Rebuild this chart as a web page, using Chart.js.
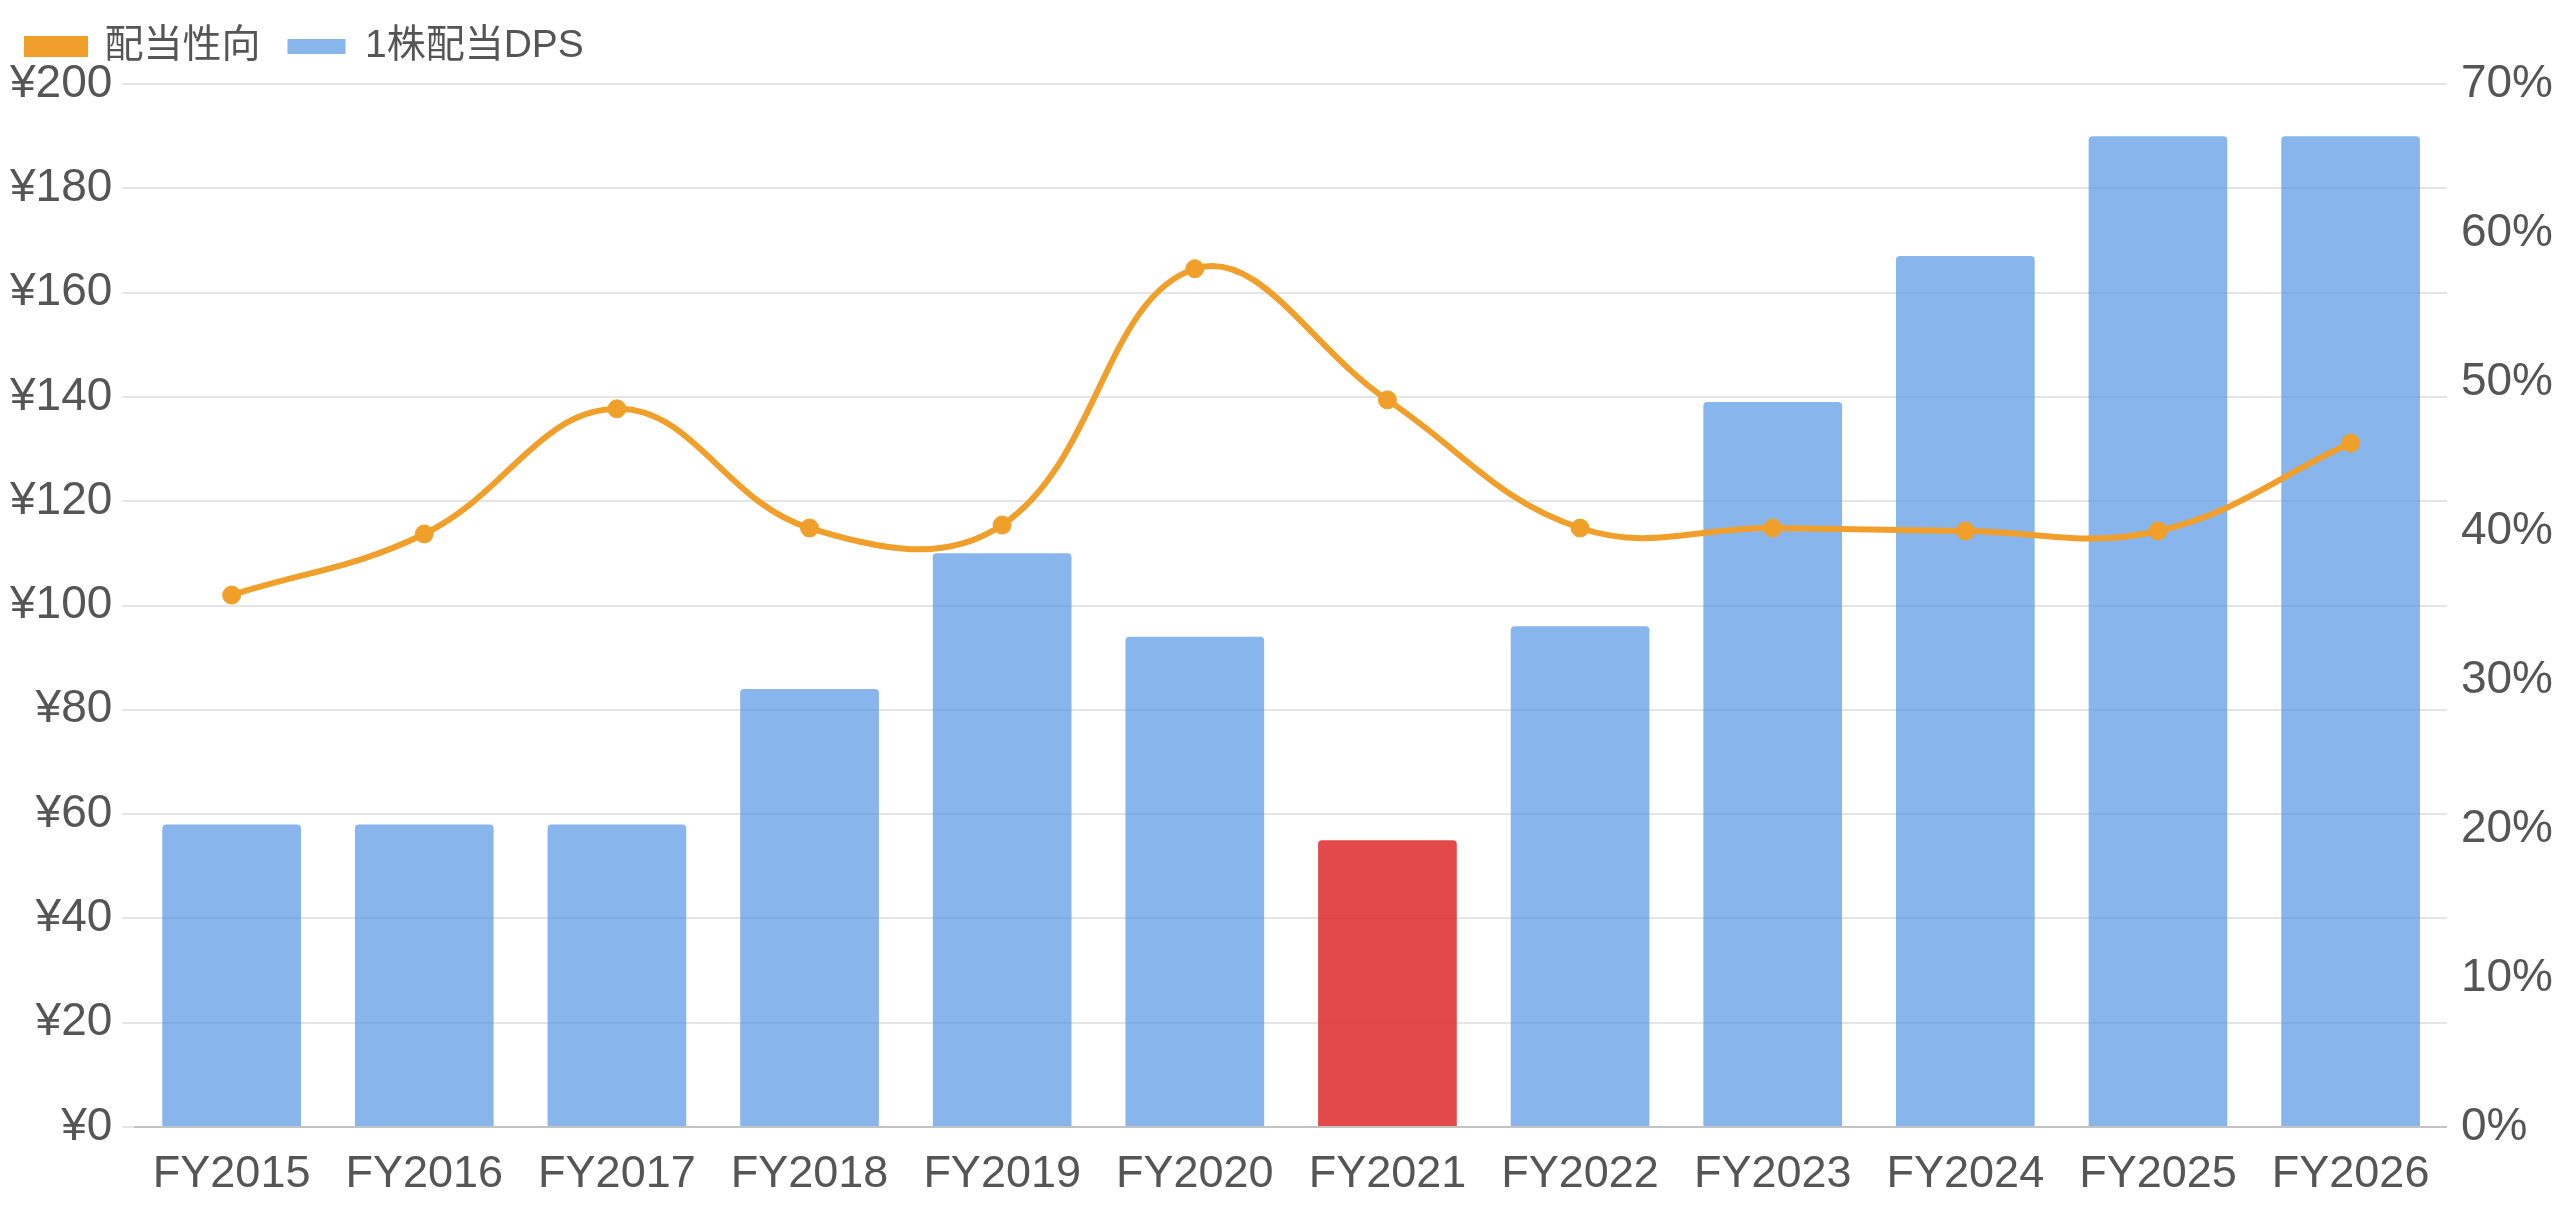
<!DOCTYPE html>
<html>
<head>
<meta charset="utf-8">
<script src="https://cdn.jsdelivr.net/npm/chart.js@4.4.1/dist/chart.umd.min.js"></script>
<style>
    html, body { margin: 0; padding: 0; background: #fff; }
    #wrap { width: 2560px; height: 1209px; position: relative; }
</style>
</head>
<body>
<div id="wrap"><canvas id="dividendChart"></canvas></div>
<script>
// 年度
const years = ['FY2015', 'FY2016', 'FY2017', 'FY2018', 'FY2019', 'FY2020',
    'FY2021', 'FY2022', 'FY2023', 'FY2024', 'FY2025', 'FY2026'];
// 1株配当 (円)
const dps = [58, 58, 58, 84, 110, 94, 55, 96, 139, 167, 190, 190];
// 配当性向 (%)
const payoutRatio = [35.7, 39.8, 48.2, 40.2, 40.4, 57.6, 48.8, 40.2, 40.2, 40.0, 40.0, 45.9];
// 減配の年だけ赤
const highlightYear = 'FY2021';

const blue = 'rgba(74, 144, 226, 0.66)';
const red = 'rgba(221, 36, 36, 0.83)';
const orange = '#f0a02a';
const textColor = '#555';
const fontFamily = '"Liberation Sans", Arial, "Noto Sans CJK JP", sans-serif';

const barColors = years.map(y => (y === highlightYear ? red : blue));

// 凡例の下に少し余白を足す
const legendGap = {
    id: 'legendGap',
    beforeInit(chart) {
        const origFit = chart.legend.fit;
        chart.legend.fit = function () {
            origFit.bind(chart.legend)();
            this.height += 8;
        };
    }
};

new Chart(document.getElementById('dividendChart'), {
    plugins: [legendGap],
    data: {
        labels: years,
        datasets: [
            {
                type: 'line',
                label: '配当性向',
                data: payoutRatio,
                yAxisID: 'y1',
                borderColor: orange,
                backgroundColor: orange,
                borderWidth: 6,
                tension: 0.4,
                pointRadius: 9,
                pointBorderWidth: 1,
                pointBackgroundColor: orange,
            },
            {
                type: 'bar',
                label: '1株配当DPS',
                data: dps,
                yAxisID: 'y',
                backgroundColor: barColors,
                borderRadius: 4,
                borderSkipped: 'start',
                categoryPercentage: 0.8,
                barPercentage: 0.9,
            },
        ],
    },
    options: {
        responsive: true,
        maintainAspectRatio: false,
        animation: false,
        layout: {
            padding: { left: 0, right: -7, top: 0, bottom: -14 }
        },
        plugins: {
            legend: {
                display: true,
                position: 'top',
                align: 'start',
                labels: {
                    color: textColor,
                    boxWidth: 58,
                    boxHeight: 15,
                    padding: 27,
                    font: { family: fontFamily, size: 39 },
                    generateLabels: function (chart) {
                        const items = Chart.defaults.plugins.legend.labels.generateLabels(chart);
                        items[1].fillStyle = blue;
                        items[1].strokeStyle = blue;
                        items[1].lineWidth = 0;
                        return items;
                    }
                }
            },
            tooltip: { enabled: false },
        },
        scales: {
            x: {
                grid: { display: false, drawTicks: false },
                border: { display: true, color: 'rgba(0,0,0,0.15)', width: 2 },
                ticks: {
                    color: textColor,
                    padding: 21,
                    font: { family: fontFamily, size: 45 },
                    maxRotation: 0,
                    autoSkip: false,
                }
            },
            y: {
                position: 'left',
                min: 0,
                max: 200,
                grid: { color: 'rgba(0,0,0,0.1)', lineWidth: 2, tickLength: 13 },
                border: { display: false },
                ticks: {
                    stepSize: 20,
                    color: textColor,
                    padding: 10,
                    font: { family: fontFamily, size: 46 },
                    callback: value => '¥' + value,
                }
            },
            y1: {
                position: 'right',
                min: 0,
                max: 70,
                grid: { drawOnChartArea: false, drawTicks: false },
                border: { display: false },
                ticks: {
                    stepSize: 10,
                    color: textColor,
                    padding: 14,
                    font: { family: fontFamily, size: 46 },
                    callback: value => value + '%',
                }
            }
        }
    }
});
</script>
</body>
</html>
